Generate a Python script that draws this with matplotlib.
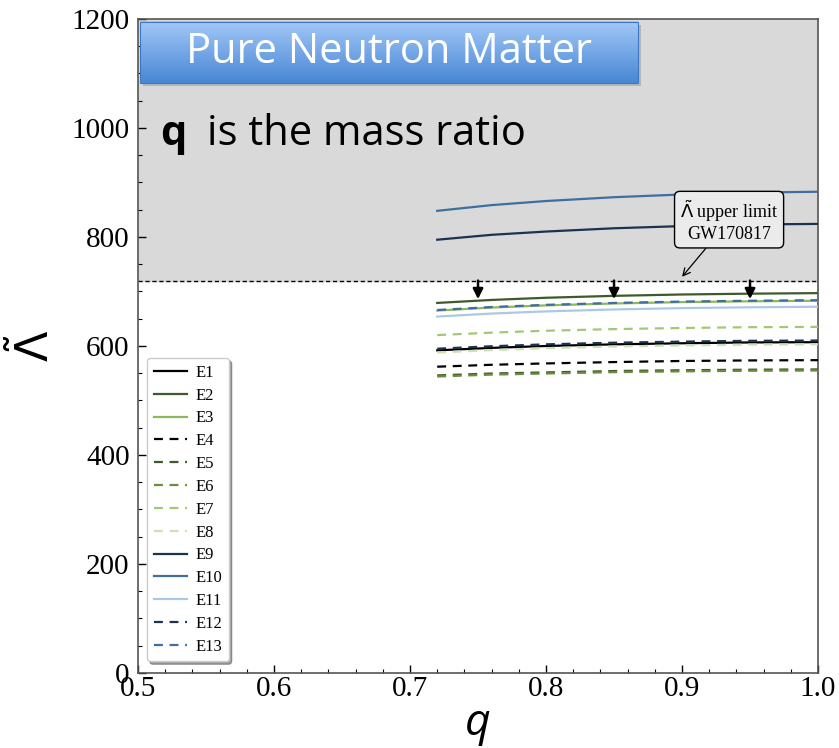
import numpy as np
import matplotlib.pyplot as plt
from matplotlib.patches import Rectangle
from matplotlib.colors import LinearSegmentedColormap

# mass ratio grid and tidal deformability curves
q = [0.72, 0.76, 0.80, 0.85, 0.90, 0.95, 1.00]

E1 = [592, 596.5, 600, 603, 605, 606.5, 607]
E2 = [679, 684.5, 688.5, 692, 694.5, 696, 697]
E3 = [665, 670.5, 674.5, 678, 680.5, 682, 683]
E4 = [562, 565.5, 568, 570.5, 572.5, 573.5, 574]
E5 = [546, 549.5, 551.5, 554, 555.5, 556.5, 557]
E6 = [544, 547.5, 549.5, 552, 553.5, 554.5, 555]
E7 = [620, 624.5, 628, 631, 633, 634.5, 635]
E8 = [588, 592.5, 596, 599, 601, 602.5, 603]
E9 = [795, 804, 810, 816, 820, 823, 824]
E10 = [848, 858.5, 866, 873, 878, 881.5, 883]
E11 = [654, 659.5, 663.5, 667, 669.5, 671, 672]
E12 = [595, 599.5, 603, 606, 608, 609.5, 610]
E13 = [666, 671.5, 675.5, 679, 681.5, 683, 684]

names = ['E1', 'E2', 'E3', 'E4', 'E5', 'E6', 'E7', 'E8', 'E9', 'E10', 'E11', 'E12', 'E13']
series = [E1, E2, E3, E4, E5, E6, E7, E8, E9, E10, E11, E12, E13]
colors = ['#000000', '#3f5a2a', '#8fb85c', '#000000', '#3f5a2a', '#6b8c3c', '#a3c775',
          '#cfe0b4', '#1b3350', '#3e6f9f', '#abc9e6', '#1b3350', '#3e6f9f']
styles = ['-', '-', '-', '--', '--', '--', '--', '--', '-', '-', '-', '--', '--']

limit = 720
arrow_q = [0.75, 0.85, 0.95]

fig = plt.figure(figsize=(8.39, 7.48), dpi=100)
ax = fig.add_axes([0.1645, 0.1003, 0.8105, 0.8743])

ax.axhspan(limit, 1200, color='#d9d9d9', zorder=0)
ax.axhline(limit, color='black', ls='--', lw=1.0, dashes=(3, 2), zorder=2)

for name, ys, c, ls in zip(names, series, colors, styles):
    ax.plot(q, ys, color=c, ls=ls, lw=1.6, label=name,
            dashes=(4, 3) if ls == '--' else (None, None), zorder=3)

for xq in arrow_q:
    ax.annotate('', xy=(xq, 686), xytext=(xq, limit),
                arrowprops=dict(arrowstyle='-|>', color='black', lw=1.8, mutation_scale=15,
                                shrinkA=0, shrinkB=0), zorder=4)

ax.annotate('$\\tilde{\\Lambda}$ upper limit\nGW170817', xy=(0.9, 727), xytext=(0.9346, 830),
            ha='center', va='center', fontsize=13, family='Liberation Serif', linespacing=1.1,
            bbox=dict(boxstyle='round,pad=0.3', fc='#ebebeb', ec='black', lw=1),
            arrowprops=dict(arrowstyle='->', color='black', lw=0.9, shrinkA=0, shrinkB=0), zorder=5)

# title banner with gradient fill
x0, x1, y0, y1 = 0.5015, 0.8676, 1082, 1194
ax.add_patch(Rectangle((x0 + 0.002, y0 - 5), x1 - x0, y1 - y0, fc='#8a8a8a', ec='none',
                       alpha=0.45, zorder=5))
grad = np.linspace(0, 1, 100).reshape(-1, 1)
cmap = LinearSegmentedColormap.from_list('bn', ['#a3c8f8', '#4787d4'])
ax.imshow(grad, extent=(x0, x1, y0, y1), origin='upper', cmap=cmap, aspect='auto', zorder=6)
ax.add_patch(Rectangle((x0, y0), x1 - x0, y1 - y0, fc='none', ec='#3d78c0', lw=0.8, zorder=7))
ax.text((x0 + x1) / 2, 1139, 'Pure Neutron Matter', color='white', fontsize=30, family='Open Sans',
        ha='center', va='center', zorder=8)

ax.text(0.516, 969, 'q', fontsize=30, family='Open Sans', weight='bold', va='baseline', zorder=8)
ax.text(0.5507, 969, 'is the mass ratio', fontsize=30, family='Open Sans', va='baseline', zorder=8)

ax.set_xlim(0.5, 1.0)
ax.set_ylim(0, 1200)
ax.set_xticks([0.5, 0.6, 0.7, 0.8, 0.9, 1.0])
ax.set_xticklabels(['0.5', '0.6', '0.7', '0.8', '0.9', '1.0'])
ax.set_yticks([0, 200, 400, 600, 800, 1000, 1200])
ax.set_xticks(np.arange(0.5, 1.001, 0.02), minor=True)
ax.set_yticks(np.arange(0, 1201, 50), minor=True)
ax.tick_params(which='both', direction='in', labelsize=21)
ax.tick_params(axis='x', pad=2)
ax.tick_params(axis='y', pad=6)
ax.tick_params(which='major', length=6, width=1)
ax.tick_params(which='minor', length=3, width=0.8)
for lab in ax.get_xticklabels() + ax.get_yticklabels():
    lab.set_family('Liberation Serif')
for sp in ax.spines.values():
    sp.set_color('#555555')
    sp.set_linewidth(1.2)

ax.set_xlabel('q', fontsize=32, family='Open Sans', style='italic', labelpad=0)
ax.set_ylabel('$\\tilde{\\Lambda}$', fontsize=32, labelpad=10)

leg = ax.legend(loc='lower left', bbox_to_anchor=(0.006, 0.01),
                prop={'family': 'Liberation Serif', 'size': 12},
                frameon=True, shadow=True, fancybox=True, handlelength=2.0, labelspacing=0.41,
                borderpad=0.4, handletextpad=0.5, borderaxespad=0.3)
leg.get_frame().set_edgecolor('#cccccc')
leg.set_zorder(9)

fig.savefig('out.png', dpi=100)
